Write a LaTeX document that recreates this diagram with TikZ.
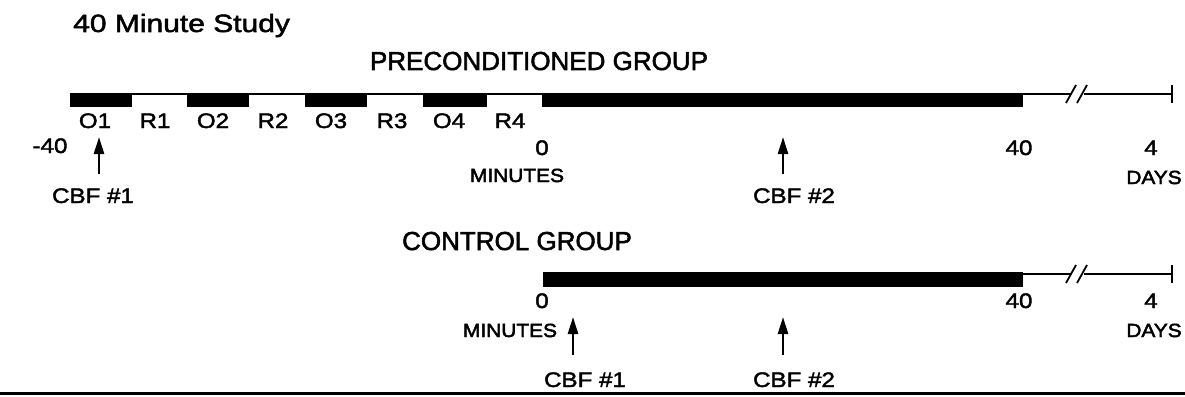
\documentclass[tikz,border=0pt]{standalone}
\usepackage{fontspec}
\setmainfont{Liberation Sans}
\newfontfamily\ttlfont[FakeStretch=1.2,FakeBold=2]{Liberation Sans}
\newfontfamily\grpfont[FakeBold=2]{Liberation Sans}
\newfontfamily\labfont[FakeStretch=1.15,FakeBold=2]{Liberation Sans}
\newfontfamily\unitfont[FakeStretch=1.1,FakeBold=2.5]{Liberation Sans}
\usetikzlibrary{arrows.meta}
\begin{document}
\begin{tikzpicture}[x=1pt,y=-1pt,
  txt/.style={inner sep=0pt,anchor=base},
  ttl/.style={txt,font=\ttlfont\fontsize{25}{30}\selectfont},
  grp/.style={txt,font=\grpfont\fontsize{26}{30}\selectfont},
  lbl/.style={txt,font=\labfont\fontsize{21}{25}\selectfont},
  unit/.style={txt,font=\unitfont\fontsize{19}{23}\selectfont},
  bar/.style={fill=black,draw=none},
  thin/.style={line width=2pt},
  tick/.style={line width=2.5pt},
  arr/.style={line width=2.6pt,-{Triangle[length=17pt,width=10pt]}},
  brk/.style={line width=1.8pt}]
\useasboundingbox (0,0) rectangle (1185,396);
\fill[white] (0,0) rectangle (1185,396);
% title
\node[ttl,anchor=base west] (title) at (73,32) {40 Minute Study};
% ---------------- preconditioned group
\node[grp] (pg) at (539,70) {PRECONDITIONED GROUP};
\coordinate (ps) at (70,94);
\coordinate (pb1) at (1071,94);
\coordinate (pb2) at (1084,94);
\coordinate (pe) at (1172,94);
\draw[thin] (ps) -- (pb1);
\draw[thin] (pb2) -- (pe);
\draw[tick] (1172,85) -- (1172,103);
\draw[brk] (1066,103) -- (1076,85);
\draw[brk] (1077,103) -- (1087,85);
\fill[bar] (70,93) rectangle (132,107);
\fill[bar] (187,93) rectangle (249,107);
\fill[bar] (305,93) rectangle (367,107);
\fill[bar] (423,93) rectangle (487,107);
\fill[bar] (542,93) rectangle (1023,107);
\node[lbl] (o1) at (95,128) {O1};
\node[lbl] (r1) at (155,128) {R1};
\node[lbl] (o2) at (213,128) {O2};
\node[lbl] (r2) at (273,128) {R2};
\node[lbl] (o3) at (331,128) {O3};
\node[lbl] (r3) at (392,128) {R3};
\node[lbl] (o4) at (449,128) {O4};
\node[lbl] (r4) at (510,128) {R4};
\node[lbl] (m40) at (50,153) {-40};
\node[lbl] (z0) at (542,155) {0};
\node[lbl] (f40) at (1019,155) {40};
\node[lbl] (d4) at (1151,155) {4};
\node[unit] (minA) at (517,182) {MINUTES};
\node[unit] (daysA) at (1154,184) {DAYS};
\node[lbl] (cbf1A) at (93,203) {CBF \#1};
\node[lbl] (cbf2A) at (794,203) {CBF \#2};
\coordinate (a1t) at (99,174);
\coordinate (a1h) at (99,137);
\coordinate (a2t) at (783,174);
\coordinate (a2h) at (783,137);
\draw[arr] (a1t) -- (a1h);
\draw[arr] (a2t) -- (a2h);
% ---------------- control group
\node[grp] (cg) at (517,250) {CONTROL GROUP};
\coordinate (cs) at (543,274);
\coordinate (cb1) at (1071,274);
\coordinate (cb2) at (1084,274);
\coordinate (ce) at (1172,274);
\draw[thin] (cs) -- (cb1);
\draw[thin] (cb2) -- (ce);
\draw[tick] (1172,265) -- (1172,283);
\draw[brk] (1066,283) -- (1076,265);
\draw[brk] (1077,283) -- (1087,265);
\fill[bar] (543,272) rectangle (1023,287);
\node[lbl] (z0b) at (542,308) {0};
\node[lbl] (f40b) at (1019,308) {40};
\node[lbl] (d4b) at (1151,308) {4};
\node[unit] (minB) at (510,337) {MINUTES};
\node[unit] (daysB) at (1154,337) {DAYS};
\node[lbl] (cbf1B) at (585,387) {CBF \#1};
\node[lbl] (cbf2B) at (794,387) {CBF \#2};
\coordinate (b1t) at (573,355);
\coordinate (b1h) at (573,317);
\coordinate (b2t) at (783,355);
\coordinate (b2h) at (783,317);
\draw[arr] (b1t) -- (b1h);
\draw[arr] (b2t) -- (b2h);
% bottom rule
\draw[line width=3pt] (0,393) -- (1185,393);
\end{tikzpicture}
\end{document}
